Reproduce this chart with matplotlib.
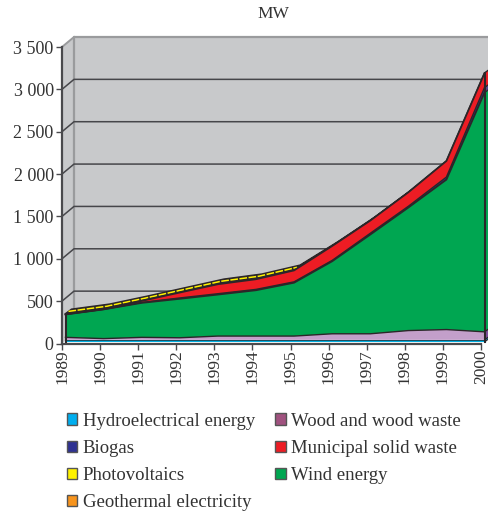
import numpy as np
import matplotlib
matplotlib.use("Agg")
import matplotlib.pyplot as plt
from matplotlib.patches import Patch

plt.rcParams['font.family'] = ['Liberation Serif', 'DejaVu Serif']

years = np.arange(1989, 2001)
hydro = np.array([25]*12, float)
wood = np.array([30, 15, 30, 25, 45, 45, 45, 72, 72, 110, 122, 95], float)
wind = np.array([270, 345, 407, 460, 490, 541, 630, 856, 1171, 1452, 1770, 2824], float)
biogas = np.array([0, 0, 5, 10, 10, 10, 10, 10, 15, 15, 30, 60], float)
msw = np.array([5, 5, 18, 64, 112, 120, 135, 170, 150, 165, 190, 170], float)
pv = np.array([5, 5, 5, 6, 8, 9, 10, 0, 0, 0, 0, 0], float)
geothermal = np.zeros(12)
yticks = [0, 500, 1000, 1500, 2000, 2500, 3000, 3500]
ylabels = ['0', '500', '1 000', '1 500', '2 000', '2 500', '3 000', '3 500']

W, H = 489, 511
L, R, T, B = 62, 481, 47, 343.5
DARK = '#2b2629'
TXT = '#333333'
WALL = '#c8c9cb'

fig = plt.figure(figsize=(W/100, H/100), dpi=100)
ax = fig.add_axes([L/W, (H-B)/H, (R-L)/W, (B-T)/H])
ax.set_xlim(1989, 2000)
ax.set_ylim(0, 3500)
px = 11/(R-L)
py = 3500/(B-T)

def off(x, y, dx, dy):
    return np.asarray(x, float)+dx*px, np.asarray(y, float)+dy*py

# walls
wdx, wdy = 12, 10
x0, x1 = 1989, 2000
bx, by = off([x0, x1, x1, x0], [0, 0, 3500, 3500], wdx, wdy)
ax.fill(bx, by, fc=WALL, ec='none', zorder=1, clip_on=False)
sx = [x0, bx[0], bx[3], x0]
sy = [0, by[0], by[3], 3500]
ax.fill(sx, sy, fc=WALL, ec='none', zorder=1, clip_on=False)
ax.plot([bx[0], bx[3], bx[2]], [by[0], by[3], by[2]], color='#9a9b9d', lw=1.6, zorder=1.5, clip_on=False)
ax.plot([x0, bx[3]], [3500, by[3]], color='#9a9b9d', lw=1.4, zorder=1.5, clip_on=False)
for v in yticks[1:-1]:
    gx, gy = off([x0, x1], [v, v], wdx, wdy)
    ax.plot([x0, gx[0], gx[1]], [v, gy[0], gy[1]], color='#46464a', lw=1.1, zorder=2, clip_on=False)

# stacked layers, front face shifted into the depth
layers = [(hydro, '#00aee0', '#00aee0', 0.5), (wood, '#c39fca', '#7d4f9b', 1.0),
          (wind, '#00a651', '#00a651', 1.3), (biogas, '#2e3192', '#5a4a90', 1.0),
          (msw, '#ed1c24', '#ed1c24', 1.3)]
fdx, fdy = 3.5, 1.5
ddx, ddy = 6, 4.5
fx = years + fdx*px
total = hydro+wood+wind+biogas+msw+pv

# top surface
ftx, fty = off(years, total, fdx, fdy)
btx, bty = off(years, total, fdx+ddx, fdy+ddy)
ax.fill(np.r_[ftx, btx[::-1]], np.r_[fty, bty[::-1]], fc=DARK, ec=DARK, lw=1.0, zorder=3, clip_on=False)
m = pv > 0
yx, yy = off(years[m], total[m], fdx+ddx*0.5, fdy+ddy*0.5)
ax.plot(yx, yy, color='#fff200', lw=1.1, dashes=(5, 1), zorder=3.5, clip_on=False)

base = np.zeros(12)
for vals, col, side, elw in layers:
    top = base+vals
    ax.fill_between(fx, base+fdy*py, top+fdy*py, fc=col, ec='none', zorder=4, clip_on=False)
    ax.plot(fx, top+fdy*py, color=DARK, lw=elw, zorder=4.5, clip_on=False)
    sx0, sy0 = off([2000, 2000], [base[-1], top[-1]], fdx, fdy)
    sx1, sy1 = off([2000, 2000], [top[-1], base[-1]], fdx+ddx, fdy+ddy)
    ax.fill(np.r_[sx0, sx1], np.r_[sy0, sy1], fc=side, ec=DARK, lw=0.8, zorder=3.8, clip_on=False)
    base = top
ax.plot([fx[-1], fx[-1]], [fdy*py, total[-1]+fdy*py], color=DARK, lw=1.5, zorder=5, clip_on=False)
ax.plot([fx[0], fx[0]], [fdy*py, total[0]+fdy*py], color=DARK, lw=1.5, zorder=5, clip_on=False)

# axes
for s in ['top', 'right']:
    ax.spines[s].set_visible(False)
for s in ['left', 'bottom']:
    ax.spines[s].set_color('#4a4a4d')
    ax.spines[s].set_linewidth(1.6)
    ax.spines[s].set_zorder(6)
ax.patch.set_visible(False)
ax.set_xticks(years)
ax.set_xticklabels([str(y) for y in years], rotation=90, fontsize=12.5, color=TXT)
ax.set_yticks(yticks)
ax.set_yticklabels(ylabels, fontsize=13, color=TXT)
ax.tick_params(axis='both', length=4, width=1, color='#4a4a4d', pad=2)
ax.tick_params(axis='x', pad=0.5)

fig.text(273/W, 1-14/H, 'MW', fontsize=12.5, color=TXT, ha='center', va='center')

handles = [Patch(fc='#00aeef', ec='#555555', label='Hydroelectrical energy'),
           Patch(fc='#2e3192', ec='#555555', label='Biogas'),
           Patch(fc='#fff200', ec='#555555', label='Photovoltaics'),
           Patch(fc='#f7941d', ec='#555555', label='Geothermal electricity'),
           Patch(fc='#a0527f', ec='#555555', label='Wood and wood waste'),
           Patch(fc='#ed1c24', ec='#555555', label='Municipal solid waste'),
           Patch(fc='#00a651', ec='#555555', label='Wind energy')]
fig.legend(handles=handles, ncol=2, frameon=False, loc='upper left',
           bbox_to_anchor=(63/W, 1-409/H), fontsize=13.5, labelcolor=TXT,
           handlelength=0.55, handleheight=0.55, handletextpad=0.3,
           labelspacing=0.54, columnspacing=1.08, borderpad=0.2, borderaxespad=0)

fig.savefig('out.png', dpi=100)
